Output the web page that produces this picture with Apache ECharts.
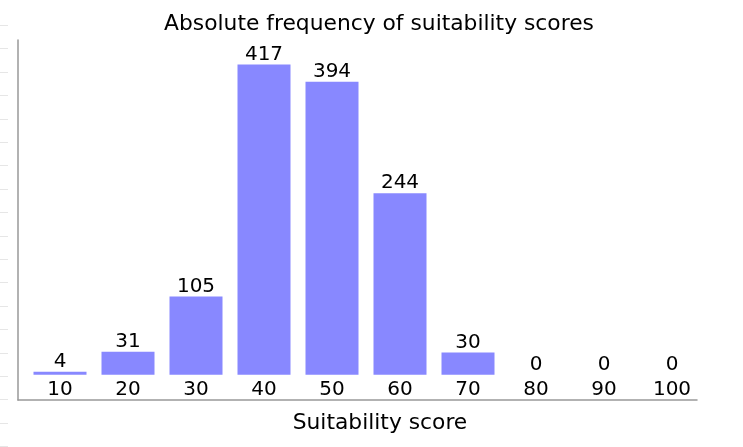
<!DOCTYPE html>
<html>
<head>
<meta charset="utf-8">
<script src="https://cdn.jsdelivr.net/npm/echarts@6/dist/echarts.min.js"></script>
<style>html,body{margin:0;padding:0;background:#fff;}#c{width:743px;height:447px;}</style>
</head>
<body>
<div id="c"></div>
<script>
const categories = ['10','20','30','40','50','60','70','80','90','100'];
const frequencies = [4, 31, 105, 417, 394, 244, 30, 0, 0, 0];
const titleText = 'Absolute frequency of suitability scores';
const xAxisTitle = 'Suitability score';

const FONT = 'DejaVu Sans';
const chart = echarts.init(document.getElementById('c'), null, {renderer: 'canvas'});

// faint decorative ticks at the left page edge
const edgeMarks = [];
for (let i = 0; i < 20; i++) {
  const y = 25 + i * 23.4;
  edgeMarks.push({type: 'line', silent: true, shape: {x1: 0, y1: Math.round(y) + 0.5, x2: 8, y2: Math.round(y) + 0.5}, style: {stroke: '#e6e6e6', lineWidth: 1}});
}

chart.setOption({
  animation: false,
  backgroundColor: '#ffffff',
  title: [
    {text: titleText, left: 374, top: 8, textAlign: 'center',
     textStyle: {fontFamily: FONT, fontSize: 21.8, fontWeight: 'normal', color: '#000'}},
    {text: xAxisTitle, left: 375, top: 407, textAlign: 'center',
     textStyle: {fontFamily: FONT, fontSize: 21.8, fontWeight: 'normal', color: '#000'}}
  ],
  graphic: edgeMarks,
  grid: [
    {left: 26, right: 37, top: 40, bottom: 47},
    {left: 18, right: 46, top: 40, bottom: 47}
  ],
  xAxis: [
    {type: 'category', gridIndex: 0, data: categories,
     axisLine: {show: false}, axisTick: {show: false},
     axisLabel: {inside: true, margin: 0, fontFamily: FONT, fontSize: 20, color: '#000'}},
    {type: 'value', gridIndex: 1, min: 0, max: 1,
     axisLine: {show: true, lineStyle: {color: '#999', width: 1.5}},
     axisTick: {show: false}, axisLabel: {show: false}, splitLine: {show: false}}
  ],
  yAxis: [
    {type: 'value', gridIndex: 0, min: -34, max: 450,
     axisLine: {show: false}, axisTick: {show: false}, axisLabel: {show: false}, splitLine: {show: false}},
    {type: 'value', gridIndex: 1, min: 0, max: 1,
     axisLine: {show: true, lineStyle: {color: '#999', width: 1.5}},
     axisTick: {show: false}, axisLabel: {show: false}, splitLine: {show: false}}
  ],
  series: [{
    type: 'bar', xAxisIndex: 0, yAxisIndex: 0,
    data: frequencies, barWidth: 53,
    itemStyle: {color: '#8888ff'},
    label: {show: true, position: 'top', distance: 0, fontFamily: FONT, fontSize: 20, color: '#000'}
  }]
});
</script>
</body>
</html>
